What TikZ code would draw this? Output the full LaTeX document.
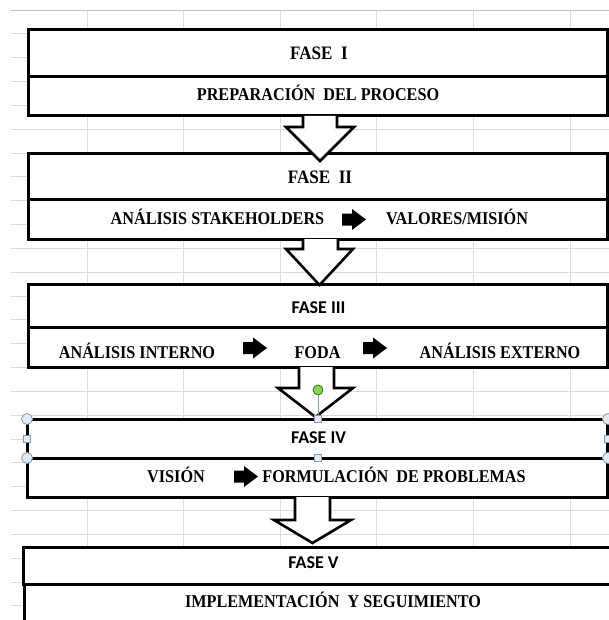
\documentclass[tikz,border=0pt]{standalone}
\usepackage{fontspec}
\usepackage{graphicx}
\setmainfont{Liberation Serif}
\newfontfamily\tnrfont{Liberation Serif}
\newfontfamily\calfont{Carlito}
\definecolor{gridc}{RGB}{218,220,222}
\definecolor{gridtopc}{RGB}{190,192,196}
\definecolor{handlefill}{RGB}{224,236,245}
\definecolor{handledraw}{RGB}{125,155,180}
\definecolor{greendot}{RGB}{140,210,80}
\newcommand{\narrowtxt}[1]{\scalebox{0.9}[1]{#1}}
\newcommand{\rblkarrow}[2]{%
  \fill[black] (#1,#2-6) -- (#1+10,#2-6) -- (#1+10,#2-10.5) -- (#1+24,#2) -- (#1+10,#2+10.5) -- (#1+10,#2+6) -- (#1,#2+6) -- cycle;}
\newcommand{\dblkarrow}[7]{%
  \draw[darrow] (#1,#3) -- (#1,#4) -- (#5,#4) -- ({(#5+#6)/2},#7) -- (#6,#4) -- (#2,#4) -- (#2,#3);}
\tikzset{
  gridline/.style={draw=gridc, line width=1pt},
  boxpart/.style={draw=black, line width=3pt, fill=white},
  darrow/.style={draw=black, line width=2.6pt, fill=white, line join=miter},
  tr/.style={font=\tnrfont\bfseries\fontsize{18}{20}\selectfont, inner sep=0pt, anchor=base},
  trbig/.style={font=\tnrfont\bfseries\fontsize{19}{21}\selectfont, inner sep=0pt, anchor=base},
  cb/.style={font=\calfont\bfseries\fontsize{18}{20}\selectfont, inner sep=0pt, anchor=base},
  handlecirc/.style={draw=handledraw, fill=handlefill, line width=0.8pt},
  handlesq/.style={draw=handledraw, fill=handlefill, line width=0.8pt},
}
\begin{document}
\begin{tikzpicture}[x=1pt,y=-1pt]
\useasboundingbox (0,0) rectangle (609,620);
\clip (0,0) rectangle (609,620);
\fill[white] (0,0) rectangle (609,620);
% grid
\foreach \x in {87,183.6,280.2,376.8,473.4,570}
  \draw[gridline] (\x,11) -- (\x,620);
\foreach \k in {1,...,25}
  \draw[gridline] (11,{34+23.83*(\k-1)}) -- (609,{34+23.83*(\k-1)});
\draw[draw=gridtopc, line width=1pt] (11,11) -- (609,11);

% boxes
\draw[boxpart] (28,30) rectangle (607.5,77);
\draw[boxpart] (28,77) rectangle (607.5,116);
\draw[boxpart] (28,154) rectangle (607.5,200);
\draw[boxpart] (28,200) rectangle (607.5,239);
\draw[boxpart] (28,284) rectangle (607.5,327);
\draw[boxpart] (28,327) rectangle (607.5,367);
\draw[boxpart] (27,419) rectangle (607.5,458);
\draw[boxpart] (27,458) rectangle (607.5,497);
\draw[boxpart] (23,547) rectangle (625,584);
\draw[boxpart] (24,584) rectangle (625,640);

% texts
\node[trbig] (f1) at (319,60) {\narrowtxt{FASE\ \ I}};
\node[tr] (p1) at (318,101) {\narrowtxt{PREPARACIÓN\ \ DEL PROCESO}};
\node[trbig] (f2) at (320,184) {\narrowtxt{FASE\ \ II}};
\node[tr] (s2) at (217.5,225) {\narrowtxt{ANÁLISIS STAKEHOLDERS}};
\node[tr] (v2) at (457,225) {\narrowtxt{VALORES/MISIÓN}};
\node[cb] (f3) at (318.5,313) {FASE III};
\node[tr] (i3) at (137,358) {\narrowtxt{ANÁLISIS INTERNO}};
\node[tr] (d3) at (317.5,358) {\narrowtxt{FODA}};
\node[tr] (e3) at (500,358) {\narrowtxt{ANÁLISIS EXTERNO}};
\node[cb] (f4) at (318.5,443) {FASE IV};
\node[tr] (v4) at (176,482) {\narrowtxt{VISIÓN}};
\node[tr] (p4) at (394,482) {\narrowtxt{FORMULACIÓN\ \ DE PROBLEMAS}};
\node[cb] (f5) at (313.5,568) {FASE V};
\node[tr] (m5) at (333,607) {\narrowtxt{IMPLEMENTACIÓN\ \ Y SEGUIMIENTO}};

% small black arrows
\rblkarrow{342}{219.5}
\rblkarrow{243}{348}
\rblkarrow{363}{348}
\rblkarrow{234}{476.5}

% down arrows
\dblkarrow{303}{337}{116}{127}{286}{354}{161}
\dblkarrow{303}{338}{239}{249}{286}{353}{285}
\dblkarrow{299}{334}{367}{388}{278}{353}{417}
\dblkarrow{295}{330}{497}{520}{274}{351}{543}

% selection handles
\draw[draw=handledraw, line width=0.8pt] (318,395) -- (318,419);
\draw[draw=black!60!green, fill=greendot, line width=0.6pt] (318,390) circle (5);
\foreach \p in {(27,419),(27,458),(608,419),(608,458)}
  \draw[handlecirc] \p circle (5.5);
\foreach \p in {(27,439),(318,419),(318,458),(608,439)}
  \draw[handlesq] \p ++(-3.5,-3.5) rectangle ++(7,7);
\end{tikzpicture}
\end{document}
